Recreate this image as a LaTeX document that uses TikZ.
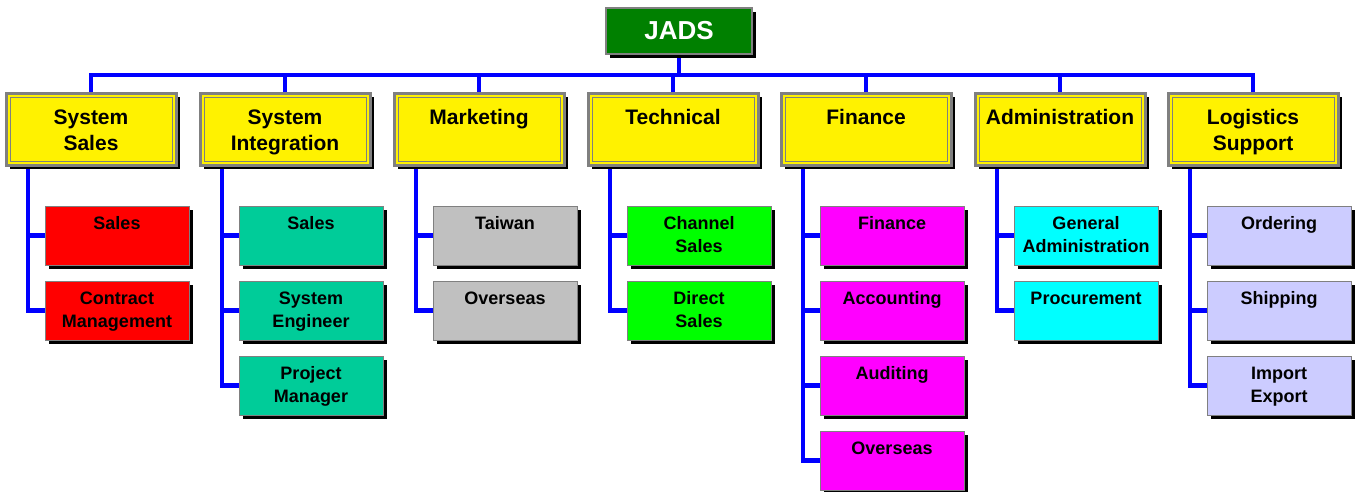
\documentclass[tikz,border=0pt]{standalone}
\usepackage{fontspec}
\setmainfont{Liberation Sans}
\usetikzlibrary{calc,shadows,backgrounds}
\definecolor{jadsgreen}{RGB}{0,128,0}
\definecolor{boxgrey}{RGB}{128,128,128}
\definecolor{cred}{RGB}{255,0,0}
\definecolor{cteal}{RGB}{0,204,153}
\definecolor{csilver}{RGB}{192,192,192}
\definecolor{clime}{RGB}{0,255,0}
\definecolor{cmag}{RGB}{255,0,255}
\definecolor{ccyan}{RGB}{0,255,255}
\definecolor{clav}{RGB}{204,204,255}
\definecolor{cblue}{RGB}{0,0,255}
\tikzset{
  blk/.style={drop shadow={opacity=1,fill=black,shadow xshift=4pt,shadow yshift=-4pt}},
  topbox/.style={rectangle,draw=boxgrey,line width=2pt,fill=jadsgreen,blk,
    minimum width=146pt,minimum height=46pt,inner sep=0pt,outer sep=0pt,
    text=white,font=\bfseries\fontsize{26}{30}\selectfont},
  deptbox/.style={rectangle,draw=boxgrey,line width=3pt,fill=yellow,blk,
    minimum width=170pt,minimum height=72pt,inner sep=0pt,outer sep=0pt,anchor=north west},
  innerframe/.style={draw=boxgrey,line width=1pt},
  depttext/.style={anchor=north,inner sep=0pt,align=center,yshift=-16.5pt,
    font=\bfseries\fontsize{21}{26}\selectfont},
  childbox/.style={rectangle,draw=boxgrey,line width=1pt,blk,
    minimum width=144pt,minimum height=59pt,inner sep=0pt,outer sep=0pt,anchor=north west},
  childtext/.style={anchor=north,inner sep=0pt,align=center,yshift=-10.5pt,
    font=\bfseries\fontsize{18}{23}\selectfont},
  conn/.style={draw=cblue,line width=4.5pt,line join=miter,line cap=rect},
}
\begin{document}
\begin{tikzpicture}[x=1pt,y=-1pt]
\useasboundingbox (0,0) rectangle (1359,491);
% top
\node[topbox] (jads) at (679,31) {JADS};
\coordinate (bus) at (679,75);
% departments
\foreach \n/\x/\t in {d1/6/{System\\Sales},d2/200/{System\\Integration},d3/394/Marketing,
  d4/588/Technical,d5/781/Finance,d6/975/Administration,d7/1168/{Logistics\\Support}}{
  \node[deptbox] (\n) at (\x,93) {};
  \draw[innerframe] ($(\n.north west)+(4,4)$) rectangle ($(\n.south east)+(-4,-4)$);
  \node[depttext] (\n t) at (\n.north) {\t};
}
% children
\foreach \n/\p/\r/\c/\t in {
  c11/d1/0/cred/Sales, c12/d1/1/cred/{Contract\\Management},
  c21/d2/0/cteal/Sales, c22/d2/1/cteal/{System\\Engineer}, c23/d2/2/cteal/{Project\\Manager},
  c31/d3/0/csilver/Taiwan, c32/d3/1/csilver/Overseas,
  c41/d4/0/clime/{Channel\\Sales}, c42/d4/1/clime/{Direct\\Sales},
  c51/d5/0/cmag/Finance, c52/d5/1/cmag/Accounting, c53/d5/2/cmag/Auditing, c54/d5/3/cmag/Overseas,
  c61/d6/0/ccyan/{General\\Administration}, c62/d6/1/ccyan/Procurement,
  c71/d7/0/clav/Ordering, c72/d7/1/clav/Shipping, c73/d7/2/clav/{Import\\Export}}{
  \node[childbox,fill=\c] (\n) at ($(\p.south west)+(39,41+75*\r)$) {};
  \node[childtext] (\n t) at (\n.north) {\t};
}
% connectors
\begin{scope}[on background layer]
  \draw[conn] (jads.south) -- (bus);
  \draw[conn] (d1.north |- bus) -- (d7.north |- bus);
  \foreach \n in {d1,d2,d3,d4,d5,d6,d7}{
    \draw[conn] (\n.north |- bus) -- (\n.north);
  }
  \foreach \p/\c in {d1/c11,d1/c12,d2/c21,d2/c22,d2/c23,d3/c31,d3/c32,d4/c41,d4/c42,
    d5/c51,d5/c52,d5/c53,d5/c54,d6/c61,d6/c62,d7/c71,d7/c72,d7/c73}{
    \draw[conn,line cap=butt] ($(\p.south west)+(22,0)$) |- (\c.west);
  }
\end{scope}
\end{tikzpicture}
\end{document}
